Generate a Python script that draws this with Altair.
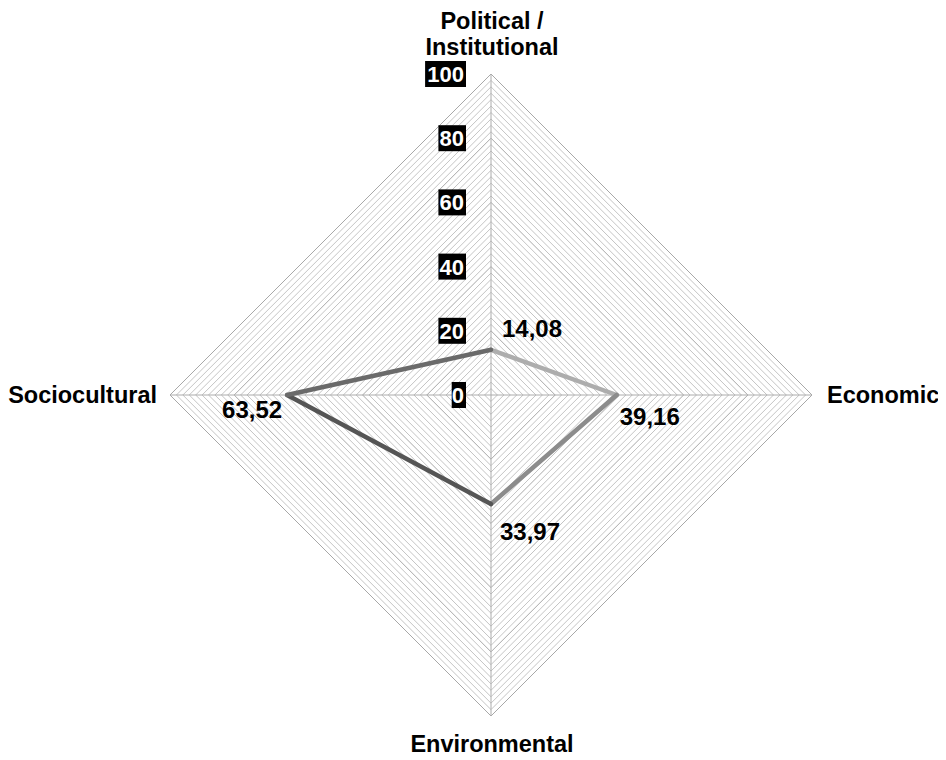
import altair as alt
import pandas as pd

# ---- data ----
categories = ["Political / Institutional", "Economic", "Environmental", "Sociocultural"]
values = [14.08, 39.16, 33.97, 63.52]
tick_values = [0, 20, 40, 60, 80, 100]
grid_step = 2
max_value = 100
segment_colors = ["#adadad", "#8c8c8c", "#555555", "#6a6a6a"]

# axis directions: top, right, bottom, left
dirs = [(0, 1), (1, 0), (0, -1), (-1, 0)]

# ---- layout (pixels per data unit and canvas) ----
K = 3.21
PAD_TOP = 8
W, H = 930, 740
cx, cy = 483, 387 - PAD_TOP  # centre inside plot area
xmin = -cx / K
xmax = xmin + W / K
ymax = cy / K
ymin = ymax - H / K
xs = alt.Scale(domain=[xmin, xmax], nice=False, zero=False)
ys = alt.Scale(domain=[ymin, ymax], nice=False, zero=False)

# grid diamonds
grid_rows = []
for lv in range(grid_step, max_value + 1, grid_step):
    for j in range(5):
        dx_, dy_ = dirs[j % 4]
        grid_rows.append({"level": lv, "idx": j, "x": dx_ * lv, "y": dy_ * lv,
                          "major": lv % 20 == 0})
grid_df = pd.DataFrame(grid_rows)

spoke_df = pd.DataFrame([
    {"x": dirs[0][0] * max_value, "y": dirs[0][1] * max_value,
     "x2": dirs[2][0] * max_value, "y2": dirs[2][1] * max_value},
    {"x": dirs[3][0] * max_value, "y": dirs[3][1] * max_value,
     "x2": dirs[1][0] * max_value, "y2": dirs[1][1] * max_value},
])

pts = [(d[0] * v, d[1] * v) for d, v in zip(dirs, values)]
seg_df = pd.DataFrame([
    {"seg": i, "x": pts[i][0], "y": pts[i][1],
     "x2": pts[(i + 1) % 4][0], "y2": pts[(i + 1) % 4][1],
     "color": segment_colors[i]}
    for i in range(4)
])

tick_df = pd.DataFrame({"t": tick_values, "label": [str(t) for t in tick_values]})
tick_df["right"] = -25 / K
tick_df["left"] = tick_df["right"] - (13.3 * tick_df["label"].str.len() + 1) / K
tick_df["top"] = tick_df["t"] + 13 / K
tick_df["bot"] = tick_df["t"] - 13 / K

FONT = "Liberation Sans"

minor = alt.Chart(grid_df[~grid_df["major"]]).mark_line(
    color="#c4c4c4", strokeWidth=1
).encode(
    x=alt.X("x:Q", scale=xs, axis=None),
    y=alt.Y("y:Q", scale=ys, axis=None),
    detail="level:N", order="idx:Q",
)
major = alt.Chart(grid_df[grid_df["major"]]).mark_line(
    color="#a8a8a8", strokeWidth=1
).encode(
    x=alt.X("x:Q", scale=xs, axis=None),
    y=alt.Y("y:Q", scale=ys, axis=None),
    detail="level:N", order="idx:Q",
)
spokes = alt.Chart(spoke_df).mark_rule(color="#acacac", strokeWidth=1).encode(
    x=alt.X("x:Q", scale=xs, axis=None), y=alt.Y("y:Q", scale=ys, axis=None),
    x2="x2:Q", y2="y2:Q",
)
series = alt.Chart(seg_df).mark_rule(strokeWidth=4.5, strokeCap="round").encode(
    x=alt.X("x:Q", scale=xs, axis=None), y=alt.Y("y:Q", scale=ys, axis=None),
    x2="x2:Q", y2="y2:Q",
    color=alt.Color("color:N", scale=None),
)
tick_boxes = alt.Chart(tick_df).mark_rect(color="#000000").encode(
    x=alt.X("left:Q", scale=xs, axis=None), x2="right:Q",
    y=alt.Y("top:Q", scale=ys, axis=None), y2="bot:Q",
)
tick_text = alt.Chart(tick_df).mark_text(
    align="right", baseline="middle", dx=-27, dy=1, font=FONT, fontSize=22,
    fontWeight="bold", color="#ffffff",
).encode(
    x=alt.value(cx), y=alt.Y("t:Q", scale=ys, axis=None), text="label:N",
)

layers = [minor, major, spokes, series, tick_boxes, tick_text]

# category labels: (lines with dy, align, dx)
cat_specs = [
    ([("Political /", -45), ("Institutional", -19)], "center", 1),
    ([("Economic", 8)], "left", 15),
    ([("Environmental", 36)], "center", 1),
    ([("Sociocultural", 8)], "right", -13),
]
for i, (lines, al, ddx) in enumerate(cat_specs):
    vx, vy = dirs[i][0] * max_value, dirs[i][1] * max_value
    for txt, ddy in lines:
        layers.append(
            alt.Chart(pd.DataFrame({"x": [vx], "y": [vy], "t": [txt]})).mark_text(
                align=al, baseline="alphabetic", dx=ddx, dy=ddy, font=FONT,
                fontSize=23.5, fontWeight="bold", color="#000000",
            ).encode(
                x=alt.X("x:Q", scale=xs, axis=None),
                y=alt.Y("y:Q", scale=ys, axis=None), text="t:N",
            )
        )

# value labels
val_specs = [("left", 11, -13), ("left", 3, 30), ("left", 9, 36), ("right", -5, 23)]
for i, (al, ddx, ddy) in enumerate(val_specs):
    lab = f"{values[i]:.2f}".replace(".", ",")
    layers.append(
        alt.Chart(pd.DataFrame({"x": [pts[i][0]], "y": [pts[i][1]], "t": [lab]})).mark_text(
            align=al, baseline="alphabetic", dx=ddx, dy=ddy, font=FONT,
            fontSize=24, fontWeight="bold", color="#000000",
        ).encode(
            x=alt.X("x:Q", scale=xs, axis=None),
            y=alt.Y("y:Q", scale=ys, axis=None), text="t:N",
        )
    )

chart = alt.layer(*layers).properties(
    width=W, height=H,
    padding={"top": PAD_TOP, "left": 0, "right": 0, "bottom": 0},
    autosize=alt.AutoSizeParams(type="none"),
).configure_view(strokeWidth=0)

chart.save("out.html", embed_options={"renderer": "svg", "actions": False})
